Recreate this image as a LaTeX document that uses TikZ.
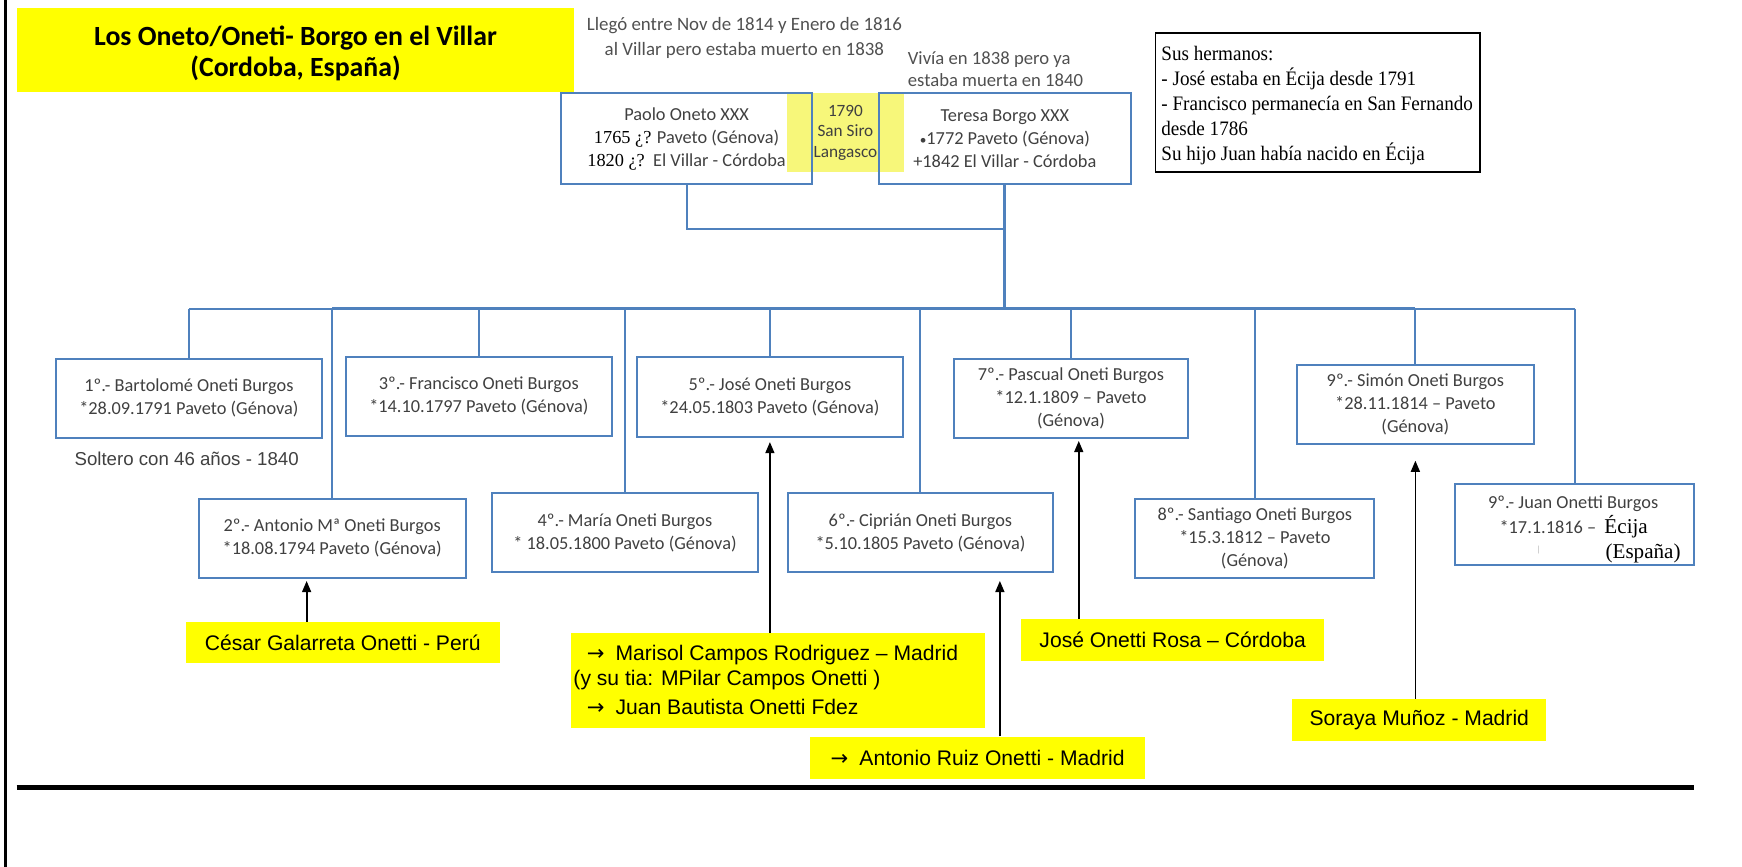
\documentclass[tikz,border=0pt]{standalone}
\usepackage{fontspec}
\setmainfont{Carlito}
\newfontfamily\arialf{Liberation Sans}
\newfontfamily\tnrf{Liberation Serif}
\newfontfamily\tnrc{Liberation Serif}[FakeStretch=0.93]
\newfontfamily\dejavu{DejaVu Sans}
\usetikzlibrary{arrows.meta,calc}
\definecolor{boxblue}{HTML}{4F81BD}
\definecolor{txtgray}{HTML}{404040}
\definecolor{notegray}{HTML}{505050}
\definecolor{yel}{HTML}{FFFF00}
\definecolor{paleyel}{HTML}{F7F77A}
\newcommand{\rarr}{{\dejavu →}}
\begin{document}
\begin{tikzpicture}[x=1pt,y=-1pt,
 sib/.style 2 args={draw=boxblue,line width=1.8pt,inner sep=0pt,minimum width=#1pt,minimum height=#2pt,align=center,text=txtgray,font=\fontsize{16.5}{20.5}\selectfont},
 desc/.style 2 args={fill=yel,inner sep=0pt,minimum width=#1pt,minimum height=#2pt,text=black,font=\arialf\fontsize{19}{23}\selectfont},
 dtext/.style={anchor=west,inner sep=0pt,text=black,font=\arialf\fontsize{19}{23}\selectfont},
 conn/.style={draw=boxblue,line width=1.8pt},
 connthick/.style={draw=boxblue,line width=2.8pt},
 arr/.style={draw=black,line width=1.6pt,-{Triangle[length=10pt,width=8pt]}},
]
\useasboundingbox (0,0) rectangle (1568,780.4);

% frame lines
\coordinate (lb1) at (5,0);
\coordinate (lb2) at (5,780.4);
\draw[line width=3pt] (lb1) -- (lb2);
\coordinate (hl1) at (15,709);
\coordinate (hl2) at (1525,709);
\draw[line width=4.5pt] (hl1) -- (hl2);

% title
\node[fill=yel,inner sep=0pt,minimum width=502pt,minimum height=76pt,align=center,font=\bfseries\fontsize{25}{28}\selectfont] (title) at (266,45) {};
\node[inner sep=0pt,align=center,font=\bfseries\fontsize{25}{28}\selectfont] (titletext) at (266,48) {Los Oneto/Oneti- Borgo en el Villar\\(Cordoba, España)};

% notes above parents
\node[align=center,text=notegray,font=\fontsize{17}{22.5}\selectfont,inner sep=0pt] (note1) at (670,34) {Llegó entre Nov de 1814 y Enero de 1816\\al Villar pero estaba muerto en 1838};
\node[align=left,text=notegray,font=\fontsize{16.8}{19.5}\selectfont,inner sep=0pt,anchor=west] (note2) at (817,62.5) {Vivía en 1838 pero ya\\estaba muerta en 1840};

% wedding
\node[fill=paleyel,inner sep=0pt,minimum width=106pt,minimum height=71pt,align=center,text=txtgray,font=\fontsize{15.5}{18.5}\selectfont] (wed) at (761,119.5) {1790\\San Siro\\Langasco};

% parents
\node[sib={226}{82}] (paolo) at (618,125) {Paolo Oneto XXX\\{\tnrf\color{black}1765 ¿?} Paveto (Génova)\\{\tnrf\color{black}1820 ¿?}\ \ El Villar - Córdoba};
\node[sib={227}{82}] (teresa) at (904.5,125) {Teresa Borgo XXX\\{\fontsize{12}{12}\selectfont•}1772 Paveto (Génova)\\+1842 El Villar - Córdoba};

% note box
\node[draw=black,line width=1.6pt,inner sep=0pt,minimum width=292pt,minimum height=125pt] (notebox) at (1186,92.5) {};
\node[anchor=west,align=left,inner sep=0pt,font=\tnrc\fontsize{18.5}{22.3}\selectfont] (notetext) at ($(notebox.west)+(6,2.5)$) {Sus hermanos:\\- José estaba en Écija desde 1791\\- Francisco permanecía en San Fernando\\desde 1786\\Su hijo Juan había nacido en Écija};

% siblings
\node[sib={240}{71}] (B1) at (170,358.5) {1º.- Bartolomé Oneti Burgos\\*28.09.1791 Paveto (Génova)};
\node[sib={240}{71}] (B3) at (431,356.5) {3º.- Francisco Oneti Burgos\\*14.10.1797 Paveto (Génova)};
\node[sib={240}{72}] (B5) at (693,357) {5º.- José Oneti Burgos\\*24.05.1803 Paveto (Génova)};
\node[sib={210}{71}] (B7) at (964,358.5) {7º.- Pascual Oneti Burgos\\*12.1.1809 – Paveto\\(Génova)};
\node[sib={214}{71.5}] (B9) at (1274,364) {9º.- Simón Oneti Burgos\\*28.11.1814 – Paveto\\(Génova)};
\node[sib={240}{71}] (B2) at (299,484.5) {2º.- Antonio Mª Oneti Burgos\\*18.08.1794 Paveto (Génova)};
\node[sib={239}{71}] (B4) at (562.5,479.5) {4º.- María Oneti Burgos\\* 18.05.1800 Paveto (Génova)};
\node[sib={239}{71}] (B6) at (828.5,479.5) {6º.- Ciprián Oneti Burgos\\*5.10.1805 Paveto (Génova)};
\node[sib={215}{71}] (B8) at (1129.5,484.5) {8º.- Santiago Oneti Burgos\\*15.3.1812 – Paveto\\(Génova)};
\node[sib={215}{73}] (B10) at (1417.5,472.5) {};
\node[inner sep=0pt,text=txtgray,font=\fontsize{16.5}{20}\selectfont] (j1) at (1416,453.6) {9º.- Juan Onetti Burgos};
\node[inner sep=0pt,text=txtgray,font=\fontsize{16.5}{20}\selectfont,anchor=base east] (j2) at (1437,480.5) {*17.1.1816 –};
\node[inner sep=0pt,text=black,font=\tnrf\fontsize{19}{22}\selectfont,anchor=base west] (j3) at (1444,480.5) {Écija};
\node[inner sep=0pt,text=black,font=\tnrf\fontsize{19}{22}\selectfont,anchor=base west] (j4) at (1445,503) {(España)};
\node[inner sep=0pt,text=gray!60,font=\fontsize{8}{8}\selectfont] (j5) at (1385,495) {|};

\node[text=txtgray,font=\arialf\fontsize{16.8}{18}\selectfont,inner sep=0pt] (solt) at (168,413) {Soltero con 46 años - 1840};

% connectors
\coordinate (union) at (904,206);
\coordinate (bar) at (904,278);
\draw[conn] (paolo.south) |- (union);
\draw[connthick] (teresa.south -| union) -- (bar);
\draw[conn] (B1.north |- bar) -- (B10.north |- bar);
\draw[connthick] (B2.north |- bar) -- (B9.north |- bar);
\foreach \n in {B1,B2,B3,B4,B5,B6,B7,B8,B9,B10}
  \draw[conn] (\n.north |- bar) -- (\n.north);

% descendants
\node[desc={283}{37}] (cesar) at (308.5,578.5) {César Galarreta Onetti - Perú};
\node[desc={373}{85}] (marisol) at (700.5,612.5) {};
\node[dtext] (m1) at (528,589.5) {\rarr\hspace{10pt}Marisol Campos Rodriguez – Madrid};
\node[dtext] (m2) at (516,612) {(y su tia: MPilar Campos Onetti )};
\node[dtext] (m3) at (528,636) {\rarr\hspace{10pt}Juan Bautista Onetti Fdez};
\node[desc={302}{38}] (ruiz) at (880,682) {\rarr\hspace{10pt}Antonio Ruiz Onetti - Madrid};
\node[desc={273}{38}] (rosa) at (1055.5,576) {José Onetti Rosa – Córdoba};
\node[desc={229}{38}] (soraya) at (1277.5,648) {Soraya Muñoz - Madrid};

% arrows
\coordinate (ax1) at (276,0);
\coordinate (ax2) at (693,0);
\coordinate (ax3) at (900,0);
\coordinate (ax4) at (971,0);
\coordinate (ax5) at (1274,0);
\draw[arr,shorten >=2pt] (cesar.north -| ax1) -- (B2.south -| ax1);
\draw[arr,shorten >=4pt] (marisol.north -| ax2) -- (B5.south -| ax2);
\draw[arr,shorten >=7pt] (ruiz.north -| ax3) -- (B6.south -| ax3);
\draw[arr,shorten >=2pt] (rosa.north -| ax4) -- (B7.south -| ax4);
\draw[arr,shorten >=14pt] (soraya.north -| ax5) -- (B9.south -| ax5);
\end{tikzpicture}
\end{document}
